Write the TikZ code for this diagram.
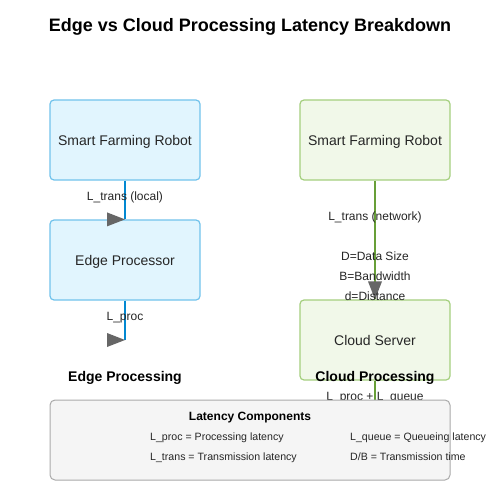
\documentclass[tikz,border=0pt]{standalone}
\usepackage{fontspec}
\setmainfont{Liberation Sans}
\usetikzlibrary{calc}
\definecolor{edgefill}{HTML}{E1F5FE}
\definecolor{edgeline}{HTML}{72C3EC}
\definecolor{edgewire}{HTML}{0288D1}
\definecolor{cloudfill}{HTML}{F1F8E9}
\definecolor{cloudline}{HTML}{A5CF7F}
\definecolor{cloudwire}{HTML}{689F38}
\definecolor{tipgray}{HTML}{666666}
\definecolor{legendfill}{HTML}{F5F5F5}
\definecolor{legendline}{HTML}{AAAAAA}
\tikzset{
  box/.style={rounded corners=4pt,minimum width=150pt,minimum height=80pt,line width=1.2pt,font=\fontsize{14}{16}\selectfont,text=black!85,text depth=0pt},
  edgebox/.style={box,draw=edgeline,fill=edgefill},
  cloudbox/.style={box,draw=cloudline,fill=cloudfill},
  lbl/.style={font=\fontsize{12}{14}\selectfont,text=black!85,text depth=0pt},
  small/.style={font=\fontsize{10.6}{12}\selectfont,text=black!85,anchor=west,inner sep=0pt,text depth=0pt},
  heading/.style={font=\bfseries\fontsize{14}{16}\selectfont,text depth=0pt},
}
\begin{document}
\begin{tikzpicture}[x=1pt,y=-1pt]
  \useasboundingbox[fill=white] (0,0) rectangle (500,500);
  \node[font=\bfseries\fontsize{18}{21}\selectfont,text depth=0pt] (title) at (250,25) {Edge vs Cloud Processing Latency Breakdown};
  % edge side
  \node[edgebox] (robotA) at (125,140) {Smart Farming Robot};
  \node[edgebox] (edgeproc) at (125,260) {Edge Processor};
  \coordinate (edgeout) at (125,340);
  \draw[edgewire,line width=2pt] (robotA.south) -- (edgeproc.north);
  \draw[edgewire,line width=2pt] (edgeproc.south) -- (edgeout);
  \fill[tipgray] ($(edgeproc.north)+(-18,-7)$) -- (edgeproc.north) -- ++(-18,7) -- cycle;
  \fill[tipgray] ($(edgeout)+(-18,-7)$) -- (edgeout) -- ++(-18,7) -- cycle;
  \node[lbl] (ltranslocal) at (125,196) {L\_trans (local)};
  \node[lbl] (lproc) at (125,316) {L\_proc};
  \node[heading] (edgetitle) at (125,376) {Edge Processing};
  % cloud side
  \node[cloudbox] (robotB) at (375,140) {Smart Farming Robot};
  \node[cloudbox] (cloudsrv) at (375,340) {Cloud Server};
  \coordinate (cloudout) at (375,420);
  \draw[cloudwire,line width=2pt] (robotB.south) -- (cloudsrv.north);
  \draw[cloudwire,line width=2pt] (cloudsrv.south) -- (cloudout);
  \fill[tipgray] ($(cloudsrv.north)+(-7,-18)$) -- (cloudsrv.north) -- ++(7,-18) -- cycle;
  \node[lbl] (ltransnet) at (375,216) {L\_trans (network)};
  \node[lbl] (dsize) at (375,256) {D=Data Size};
  \node[lbl] (bwidth) at (375,276) {B=Bandwidth};
  \node[lbl] (dist) at (375,296) {d=Distance};
  \node[lbl] (lprocq) at (375,396) {L\_proc + L\_queue};
  \node[heading] (cloudtitle) at (375,376) {Cloud Processing};
  % legend
  \node[draw=legendline,fill=legendfill,rounded corners=5pt,minimum width=400pt,minimum height=80pt,line width=1pt] (legend) at (250,440) {};
  \node[font=\bfseries\fontsize{12}{14}\selectfont,text depth=0pt] (legtitle) at (250,416) {Latency Components};
  \node[small] (k1) at (150,437) {L\_proc = Processing latency};
  \node[small] (k2) at (350,437) {L\_queue = Queueing latency};
  \node[small] (k3) at (150,457) {L\_trans = Transmission latency};
  \node[small] (k4) at (350,457) {D/B = Transmission time};
\end{tikzpicture}
\end{document}
